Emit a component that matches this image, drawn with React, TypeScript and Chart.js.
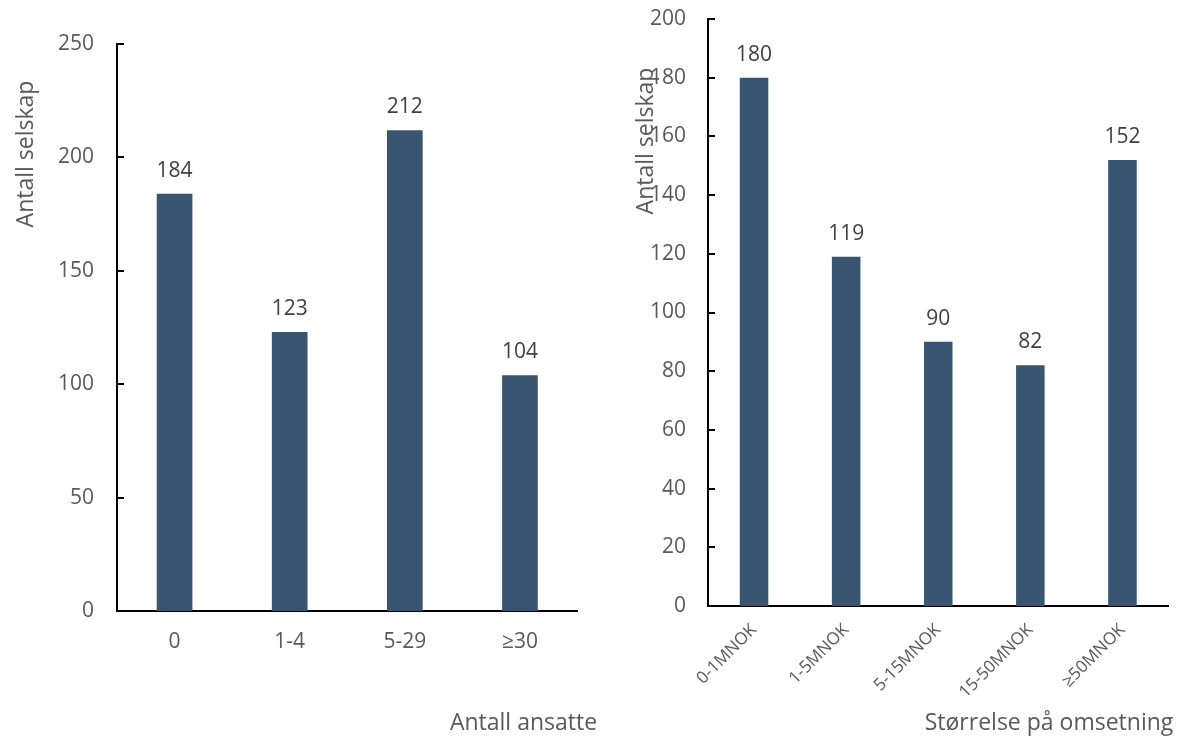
import React, { useEffect, useRef } from "react";
import { Chart, registerables } from "chart.js";

Chart.register(...registerables);

// ---- data ----
const employeeCategories = ["0", "1-4", "5-29", "≥30"];
const employeeCounts = [184, 123, 212, 104];
const employeeTicks = [0, 50, 100, 150, 200, 250];

const revenueCategories = ["0-1MNOK", "1-5MNOK", "5-15MNOK", "15-50MNOK", "≥50MNOK"];
const revenueCounts = [180, 119, 90, 82, 152];
const revenueTicks = [0, 20, 40, 60, 80, 100, 120, 140, 160, 180, 200];

const yTitle = "Antall selskap";
const leftXTitle = "Antall ansatte";
const rightXTitle = "Størrelse på omsetning";

// ---- styles ----
const FONT = "'Open Sans', 'Noto Sans', sans-serif";
const BAR_COLOR = "#3A5572";
const TICK_COLOR = "#595959";
const LABEL_COLOR = "#404040";

type Cfg = {
  canvasLeft: number;
  canvasWidth: number;
  height: number;
  labels: string[];
  values: number[];
  ticks: number[];
  area: { left: number; right: number; top: number; bottom: number };
  rotate: boolean;
  xTickPadding: number;
  yTickPadding: number;
  xTickSize: number;
  xTitle: { text: string; x: number; y: number };
  yTitle: { text: string; x: number; y: number };
};

const decorPlugin = {
  id: "decor",
  afterDraw(chart: any, _args: any, opts: any) {
    const ctx = chart.ctx as CanvasRenderingContext2D;
    const { left } = chart.chartArea;
    const yScale = chart.scales.y;
    ctx.save();
    // inside tick marks on y axis
    ctx.strokeStyle = "#000";
    ctx.lineWidth = 2;
    yScale.ticks.forEach((_t: any, i: number) => {
      const py = Math.round(yScale.getPixelForTick(i));
      ctx.beginPath();
      ctx.moveTo(left, py);
      ctx.lineTo(left + 7, py);
      ctx.stroke();
    });
    // value labels
    const meta = chart.getDatasetMeta(0);
    const data = chart.data.datasets[0].data;
    ctx.fillStyle = LABEL_COLOR;
    ctx.font = `21px ${FONT}`;
    ctx.textAlign = "center";
    ctx.textBaseline = "alphabetic";
    meta.data.forEach((bar: any, i: number) => {
      ctx.fillText(String(data[i]), bar.x, bar.y - 17);
    });
    // axis titles
    ctx.fillStyle = TICK_COLOR;
    ctx.font = `23px ${FONT}`;
    ctx.textAlign = "center";
    ctx.fillText(opts.xTitle.text, opts.xTitle.x, opts.xTitle.y);
    ctx.save();
    ctx.translate(opts.yTitle.x, opts.yTitle.y);
    ctx.rotate(-Math.PI / 2);
    ctx.fillText(opts.yTitle.text, 0, 0);
    ctx.restore();
    ctx.restore();
  },
};

function BarPanel({ cfg }: { cfg: Cfg }) {
  const ref = useRef<HTMLCanvasElement | null>(null);
  useEffect(() => {
    if (!ref.current) return;
    const ticks = cfg.ticks;
    const chart = new Chart(ref.current, {
      type: "bar",
      data: {
        labels: cfg.labels,
        datasets: [
          {
            data: cfg.values,
            backgroundColor: BAR_COLOR,
            barPercentage: 0.31,
            categoryPercentage: 1,
          },
        ],
      },
      options: {
        responsive: false,
        animation: false,
        devicePixelRatio: 1,
        layout: {
          padding: {
            left: 0,
            top: cfg.area.top,
            right: cfg.canvasWidth - cfg.area.right,
            bottom: 0,
          },
        },
        plugins: {
          legend: { display: false },
          tooltip: { enabled: false },
          decor: { xTitle: cfg.xTitle, yTitle: cfg.yTitle },
        } as any,
        scales: {
          x: {
            offset: true,
            grid: { display: false, drawTicks: false },
            border: { display: true, color: "#000", width: 2 },
            ticks: {
              color: TICK_COLOR,
              font: { family: FONT, size: cfg.xTickSize },
              padding: cfg.xTickPadding,
              maxRotation: cfg.rotate ? 45 : 0,
              minRotation: cfg.rotate ? 45 : 0,
              autoSkip: false,
            },
            afterFit: (s: any) => {
              s.height = cfg.height - cfg.area.bottom;
            },
          },
          y: {
            min: ticks[0],
            max: ticks[ticks.length - 1],
            grid: { display: false, drawTicks: false },
            border: { display: true, color: "#000", width: 2 },
            ticks: {
              stepSize: ticks[1] - ticks[0],
              color: TICK_COLOR,
              font: { family: FONT, size: 21 },
              padding: cfg.yTickPadding,
            },
            afterFit: (s: any) => {
              s.width = cfg.area.left;
              s.paddingTop = 0;
              s.paddingBottom = 0;
            },
          },
        },
      },
      plugins: [decorPlugin as any],
    });
    return () => chart.destroy();
  }, [cfg]);
  return (
    <canvas
      ref={ref}
      width={cfg.canvasWidth}
      height={cfg.height}
      style={{
        position: "absolute",
        left: cfg.canvasLeft,
        top: 0,
        width: cfg.canvasWidth,
        height: cfg.height,
      }}
    />
  );
}

const leftCfg: Cfg = {
  canvasLeft: 0,
  canvasWidth: 610,
  height: 738,
  labels: employeeCategories,
  values: employeeCounts,
  ticks: employeeTicks,
  area: { left: 117, right: 577.5, top: 44, bottom: 611 },
  rotate: false,
  xTickPadding: 18,
  yTickPadding: 23,
  xTickSize: 21,
  xTitle: { text: leftXTitle, x: 523.5, y: 730 },
  yTitle: { text: yTitle, x: 33, y: 154 },
};

const rightCfg: Cfg = {
  canvasLeft: 610,
  canvasWidth: 573,
  height: 738,
  labels: revenueCategories,
  values: revenueCounts,
  ticks: revenueTicks,
  area: { left: 98, right: 558.5, top: 19, bottom: 606 },
  rotate: true,
  xTickPadding: 14,
  yTickPadding: 22,
  xTickSize: 17,
  xTitle: { text: rightXTitle, x: 439, y: 730 },
  yTitle: { text: yTitle, x: 43, y: 141 },
};

export default function App() {
  return (
    <div
      style={{
        position: "absolute",
        left: 0,
        top: 0,
        width: 1183,
        height: 738,
        background: "#fff",
        overflow: "hidden",
      }}
    >
      <BarPanel cfg={leftCfg} />
      <BarPanel cfg={rightCfg} />
    </div>
  );
}
